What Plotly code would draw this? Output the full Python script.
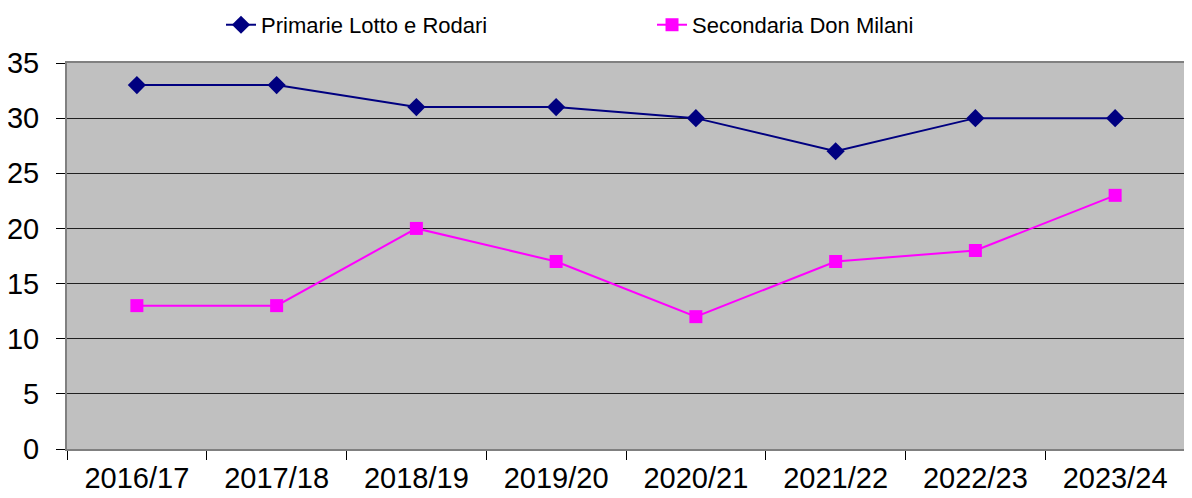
import plotly.graph_objects as go

years = ["2016/17", "2017/18", "2018/19", "2019/20", "2020/21", "2021/22", "2022/23", "2023/24"]
primarie = [33, 33, 31, 31, 30, 27, 30, 30]
secondaria = [13, 13, 20, 17, 12, 17, 18, 23]
y_ticks = [0, 5, 10, 15, 20, 25, 30, 35]

fig = go.Figure()
fig.add_trace(go.Scatter(x=years, y=primarie, mode="lines+markers", name="Primarie Lotto e Rodari",
                         line=dict(color="#000080", width=2),
                         marker=dict(symbol="diamond", size=14, color="#000080")))
fig.add_trace(go.Scatter(x=years, y=secondaria, mode="lines+markers", name="Secondaria Don Milani",
                         line=dict(color="#FF00FF", width=2),
                         marker=dict(symbol="square", size=13, color="#FF00FF")))

fig.update_layout(
    width=1192, height=498,
    margin=dict(l=59, r=15, t=55, b=57, autoexpand=False),
    paper_bgcolor="white", plot_bgcolor="#C0C0C0",
    font=dict(family="Liberation Sans, Arial, sans-serif", color="black"),
    showlegend=True,
    legend=dict(orientation="h", x=0.1787, xref="container", xanchor="left",
                y=0.966, yref="container", yanchor="middle",
                font=dict(size=22), entrywidth=386, entrywidthmode="pixels",
                bgcolor="rgba(0,0,0,0)"),
)
fig.update_xaxes(type="category", tickson="boundaries", range=[-0.5, 7.5],
                 ticks="outside", ticklen=9, tickcolor="black", tickwidth=1,
                 tickfont=dict(size=29), showgrid=False, automargin=False,
                 ticklabelstandoff=2,
                 showline=True, linecolor="#808080", linewidth=2, mirror=True)
fig.update_yaxes(range=[0, 35], tickvals=y_ticks, ticks="outside", ticklen=9,
                 tickcolor="black", tickwidth=1, tickfont=dict(size=29), automargin=False,
                 ticklabelstandoff=11,
                 showgrid=True, gridcolor="#202020", gridwidth=1, zeroline=False,
                 showline=True, linecolor="#808080", linewidth=2, mirror=True)

fig.write_html("out.html")
